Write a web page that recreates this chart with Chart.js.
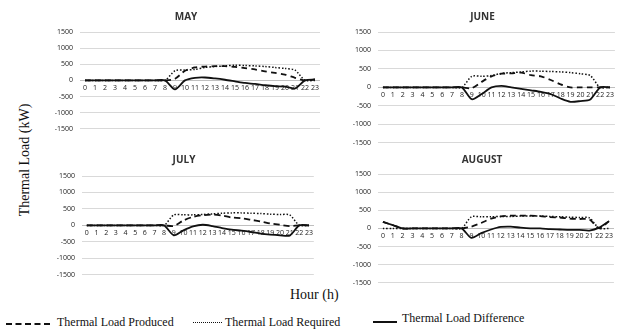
<!DOCTYPE html>
<html>
<head>
<meta charset="utf-8">
<script src="https://cdn.jsdelivr.net/npm/chart.js@4.4.0/dist/chart.umd.min.js"></script>
<style>
  html, body { margin: 0; padding: 0; background: #fff; }
  body { width: 620px; height: 331px; position: relative; overflow: hidden; }
  .box { position: absolute; }
  .serif { position: absolute; font-family: "Liberation Serif", "DejaVu Serif", serif; color: #111; white-space: nowrap; }
  .ytitle { left: 25px; top: 160px; font-size: 14px; transform: translate(-50%, -50%) rotate(-90deg); }
  .xtitle { left: 290px; top: 287px; font-size: 14px; }
  .lg { font-size: 12px; }
  .sw { position: absolute; height: 0; }
</style>
</head>
<body>

<div class="serif ytitle">Thermal Load (kW)</div>
<div class="serif xtitle">Hour (h)</div>

<div class="sw" style="left:6px; top:323px; width:44px; border-top:2px dashed #111;"></div>
<div class="serif lg" style="left:57px; top:315px;">Thermal Load Produced</div>
<div class="sw" style="left:193px; top:322px; width:29px; border-top:1.5px dotted #111;"></div>
<div class="serif lg" style="left:225px; top:315px;">Thermal Load Required</div>
<div class="sw" style="left:373px; top:321px; width:24px; border-top:2px solid #111;"></div>
<div class="serif lg" style="left:402px; top:311px;">Thermal Load Difference</div>

<div class="box" id="b-may"><canvas id="c-may"></canvas></div>
<div class="box" id="b-jun"><canvas id="c-jun"></canvas></div>
<div class="box" id="b-jul"><canvas id="c-jul"></canvas></div>
<div class="box" id="b-aug"><canvas id="c-aug"></canvas></div>

<script>
'use strict';

var HOURS = ['0','1','2','3','4','5','6','7','8','9','10','11','12','13','14','15','16','17','18','19','20','21','22','23'];
var Y_TICKS = [-1500, -1000, -500, 0, 500, 1000, 1500];

// kW per hour
var MAY_PRODUCED   = [0,0,0,0,0,0,0,0,0, 50,300,400,430,440,440,420,380,340,280,230,180,80,0,30];
var MAY_REQUIRED   = [0,0,0,0,0,0,0,0,0, 300,320,340,400,430,450,470,460,450,430,400,370,320,0,0];
var MAY_DIFF       = [0,0,0,0,0,0,0,0,0, -280,0,80,90,60,20,-30,-80,-110,-150,-180,-190,-250,0,30];

var JUNE_PRODUCED  = [0,0,0,0,0,0,0,0,0, -20,150,300,370,380,400,330,300,200,80,0,0,0,0,0];
var JUNE_REQUIRED  = [0,0,0,0,0,0,0,0,0, 300,300,320,380,400,420,440,440,430,420,400,370,320,0,0];
var JUNE_DIFF      = [0,0,0,0,0,0,0,0,0, -320,-180,0,40,0,-40,-80,-120,-180,-300,-390,-370,-330,0,0];

var JULY_PRODUCED  = [0,0,0,0,0,0,0,0,0, -20,150,260,310,330,300,240,220,170,120,60,20,-20,0,0];
var JULY_REQUIRED  = [0,0,0,0,0,0,0,0,0, 320,320,320,330,350,370,380,380,370,360,340,330,320,0,0];
var JULY_DIFF      = [0,0,0,0,0,0,0,0,0, -300,-150,-30,20,-20,-80,-130,-160,-200,-250,-280,-300,-310,0,0];

var AUG_PRODUCED   = [180,90,0,0,0,0,0,0,0, 50,150,270,330,350,350,350,340,310,300,270,260,250,0,200];
var AUG_REQUIRED   = [0,0,0,0,0,0,0,0,0, 320,320,320,330,330,340,340,340,330,320,310,300,290,0,0];
var AUG_DIFF       = [180,90,0,0,0,0,0,0,0, -260,-130,-30,40,50,20,0,0,-20,-30,-40,-40,-60,20,200];

// plot-area placement of each panel: left, right, y of 1500 line, y of -1500 line, title centre
var PANELS = [
  { id: 'may', title: 'MAY',    data: [MAY_PRODUCED,  MAY_REQUIRED,  MAY_DIFF],  l: 80,  r: 322, t: 32,  b: 132, ty: 17 },
  { id: 'jun', title: 'JUNE',   data: [JUNE_PRODUCED, JUNE_REQUIRED, JUNE_DIFF], l: 378, r: 617, t: 32,  b: 146, ty: 17 },
  { id: 'jul', title: 'JULY',   data: [JULY_PRODUCED, JULY_REQUIRED, JULY_DIFF], l: 82,  r: 316, t: 176, b: 278, ty: 160 },
  { id: 'aug', title: 'AUGUST', data: [AUG_PRODUCED,  AUG_REQUIRED,  AUG_DIFF],  l: 378, r: 616, t: 174, b: 286, ty: 160 },
];

var TICK_FONT = { family: '"Open Sans", "Liberation Sans", sans-serif', size: 7 };
var Y_W = 30;
var TITLE_SIZE = 10;

function buildPanel(p) {
  var top = p.ty - TITLE_SIZE * 0.6;
  var left = p.l - Y_W;
  var box = document.getElementById('b-' + p.id);
  box.style.left = left + 'px';
  box.style.top = top + 'px';
  box.style.width = (p.r - left) + 'px';
  box.style.height = (p.b - top + 8) + 'px';

  new Chart(document.getElementById('c-' + p.id), {
    type: 'line',
    data: {
      labels: HOURS,
      datasets: [
        { label: 'Thermal Load Produced', data: p.data[0], borderColor: '#111', borderWidth: 1.8,
          borderDash: [6, 4], pointRadius: 0, tension: 0.25, order: 3 },
        { label: 'Thermal Load Required', data: p.data[1], borderColor: '#111', borderWidth: 1.5,
          borderDash: [1.5, 1.8], pointRadius: 0, tension: 0.25, order: 2 },
        { label: 'Thermal Load Difference', data: p.data[2], borderColor: '#111', borderWidth: 1.8,
          pointRadius: 0, tension: 0.25, order: 1 },
      ],
    },
    options: {
      responsive: true,
      maintainAspectRatio: false,
      animation: false,
      layout: { padding: { left: 0, right: 0, top: 0, bottom: 8 } },
      plugins: {
        legend: { display: false },
        tooltip: { enabled: false },
        title: {
          display: true,
          text: p.title,
          color: '#333',
          font: { family: '"Open Sans", "Liberation Sans", sans-serif', size: TITLE_SIZE, weight: 'bold', lineHeight: 1.2 },
          padding: { top: 0, bottom: p.t - top - TITLE_SIZE * 1.2 },
        },
      },
      scales: {
        x: {
          type: 'category',
          position: { y: 0 },
          offset: true,
          grid: { display: false, drawTicks: false },
          border: { display: true, color: '#bfbfbf', width: 1 },
          ticks: { color: '#222', font: TICK_FONT, padding: 3, autoSkip: false, maxRotation: 0 },
        },
        y: {
          min: -1500,
          max: 1500,
          afterBuildTicks: function(s) { s.ticks = Y_TICKS.map(function(v) { return { value: v }; }); },
          afterFit: function(s) { s.width = Y_W; },
          grid: { color: '#d9d9d9', lineWidth: 1, drawTicks: false },
          border: { display: false },
          ticks: { color: '#222', font: TICK_FONT, padding: 7,
                   callback: function(v) { return String(v); } },
        },
      },
    },
  });
}

PANELS.forEach(buildPanel);
</script>
</body>
</html>
